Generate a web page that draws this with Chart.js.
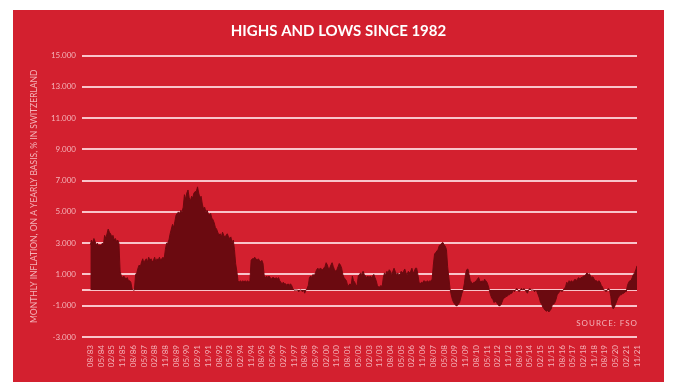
<!DOCTYPE html>
<html>
<head>
<meta charset="utf-8">
<script src="https://cdn.jsdelivr.net/npm/chart.js@4.4.0/dist/chart.umd.min.js"></script>
<style>
  html, body { margin: 0; padding: 0; background: #fff; }
  #panel { position: absolute; left: 13px; top: 10px; width: 651px; height: 372px; background: #d3202f; }
  canvas { display: block; }
</style>
</head>
<body>
<div id="panel"><canvas id="chart" width="651" height="372"></canvas></div>
<script>
// monthly inflation (% yoy), first value = 08/1983, last = 11/2021
var inflation = [
  2.9, 3.2, 3.0, 3.3, 3.1,                                          // 1983 (aug-dec)
  2.9, 3.0, 2.8, 2.9, 2.8, 3.0, 2.9, 3.5, 3.3, 3.6, 3.9, 3.7,       // 1984
  3.6, 3.4, 3.5, 3.2, 3.3, 3.1, 3.2, 3.0, 1.2, 0.9, 0.8, 0.9,       // 1985
  0.8, 0.7, 0.8, 0.6, 0.6, 0.5, 0.1, 0.0, 0.0, 1.0, 1.1, 1.4,       // 1986
  1.6, 1.5, 1.8, 2.0, 1.7, 1.9, 2.0, 1.8, 2.1, 1.9, 2.0, 1.8,       // 1987
  1.9, 2.1, 1.8, 2.0, 1.9, 2.1, 1.9, 2.0, 2.1, 2.0, 2.6, 3.0,       // 1988
  3.0, 3.2, 3.6, 3.9, 4.2, 4.0, 4.4, 4.8, 4.9, 5.0, 4.9, 5.1,       // 1989
  5.0, 5.3, 6.1, 5.8, 6.2, 6.4, 5.9, 5.7, 6.0, 5.9, 6.2, 6.3,       // 1990
  6.3, 6.6, 6.2, 5.9, 6.0, 5.5, 5.2, 5.3, 5.0, 5.1, 4.9, 4.8,       // 1991
  4.9, 4.6, 4.5, 4.3, 4.0, 3.9, 3.7, 3.5, 3.6, 3.4, 3.7, 3.5,       // 1992
  3.4, 3.5, 3.6, 3.4, 3.3, 3.4, 3.0, 3.2, 2.6, 1.7, 1.2, 0.6,       // 1993
  0.5, 0.6, 0.5, 0.6, 0.5, 0.6, 0.5, 0.6, 0.5, 0.6, 1.9, 2.0,       // 1994
  2.0, 2.1, 2.0, 1.9, 2.0, 1.9, 1.8, 1.9, 1.7, 0.9, 0.8, 0.9,       // 1995
  0.8, 0.9, 0.8, 0.7, 0.8, 0.8, 0.7, 0.8, 0.7, 0.8, 0.6, 0.5,       // 1996
  0.4, 0.5, 0.4, 0.4, 0.3, 0.4, 0.3, 0.4, 0.3, 0.1, 0.0, 0.0,       // 1997
  0.0, 0.0, -0.1, 0.0, 0.0, -0.1, 0.0, -0.2, 0.0, 0.1, 0.3, 0.8,    // 1998
  0.9, 0.8, 1.0, 0.9, 1.1, 1.3, 1.4, 1.3, 1.4, 1.35, 1.3, 1.4,      // 1999
  1.5, 1.75, 1.6, 1.35, 1.4, 1.6, 1.75, 1.5, 1.3, 1.2, 1.3, 1.5,    // 2000
  1.7, 1.6, 1.4, 1.0, 0.8, 0.7, 0.6, 0.3, 0.3, 0.4, 0.3, 0.9,       // 2001
  0.6, 0.5, 0.3, 0.3, 0.9, 1.0, 1.1, 1.0, 1.2, 1.0, 0.9, 0.8,       // 2002
  0.9, 0.8, 0.9, 0.8, 0.9, 1.0, 0.8, 0.6, 0.3, 0.2, 0.2, 0.3,       // 2003
  0.2, 0.8, 1.1, 1.0, 1.2, 1.1, 1.3, 1.2, 1.0, 1.2, 1.4, 1.2,       // 2004
  1.0, 1.1, 1.0, 1.0, 1.2, 1.1, 1.2, 1.35, 1.1, 1.0, 1.2, 1.1,      // 2005
  1.2, 1.4, 1.1, 1.2, 1.4, 1.4, 1.0, 0.5, 0.4, 0.5, 0.45, 0.6,      // 2006
  0.55, 0.5, 0.6, 0.5, 0.6, 0.55, 0.7, 1.6, 2.3, 2.4, 2.5, 2.6,     // 2007
  2.85, 2.9, 3.0, 3.05, 2.9, 2.8, 2.6, 1.5, 0.8, 0.1, -0.3, -0.6,   // 2008
  -0.8, -0.9, -1.0, -1.0, -0.9, -0.8, -0.5, -0.2, 0.0, 0.4, 1.0, 1.3, // 2009
  1.35, 1.0, 0.6, 0.5, 0.4, 0.5, 0.5, 0.6, 0.7, 0.8, 0.6, 0.5,      // 2010
  0.6, 0.5, 0.7, 0.6, 0.5, 0.3, 0.0, -0.3, -0.5, -0.6, -0.8, -0.7,  // 2011
  -0.8, -0.9, -1.0, -1.0, -0.9, -0.7, -0.5, -0.5, -0.4, -0.4, -0.3, -0.3, // 2012
  -0.2, -0.2, 0.0, -0.1, 0.0, 0.1, 0.0, -0.1, 0.0, 0.1, 0.0, 0.1,   // 2013
  0.0, -0.1, -0.2, 0.0, 0.1, 0.0, 0.0, 0.0, -0.1, 0.0, -0.1, -0.3,  // 2014
  -0.5, -0.8, -0.9, -1.1, -1.2, -1.3, -1.35, -1.3, -1.4, -1.3, -1.2, -0.9, // 2015
  -0.9, -0.8, -0.6, -0.3, -0.2, -0.1, 0.0, -0.1, 0.0, 0.1, 0.2, 0.5, // 2016
  0.4, 0.6, 0.5, 0.6, 0.5, 0.6, 0.7, 0.6, 0.7, 0.8, 0.7, 0.8,       // 2017
  0.8, 0.9, 0.9, 1.0, 1.1, 1.0, 1.05, 0.9, 0.8, 0.85, 0.7, 0.6,     // 2018
  0.6, 0.5, 0.6, 0.5, 0.3, 0.2, 0.0, 0.0, -0.1, 0.0, 0.1, 0.0,      // 2019
  -0.4, -1.0, -1.2, -1.1, -0.9, -0.7, -0.5, -0.4, -0.3, -0.3, -0.2, -0.2, // 2020
  -0.1, -0.1, 0.3, 0.5, 0.6, 0.6, 0.8, 1.0, 1.1, 1.3, 1.55          // 2021 (jan-nov)
];

// one label every 9 months
var tickLabels = ['08/83','05/84','02/85','11/85','08/86','05/87','02/88','11/88','08/89','05/90',
  '02/91','11/91','08/92','05/93','02/94','11/94','08/95','05/96','02/97','11/97','08/98','05/99',
  '02/00','11/00','08/01','05/02','02/03','11/03','08/04','05/05','02/06','11/06','08/07','05/08',
  '02/09','11/09','08/10','05/11','02/12','11/12','08/13','05/14','02/15','11/15','08/16','05/17',
  '02/18','11/18','08/19','05/20','02/21','11/21'];
var tickStep = 9;

var yTicks = [-3, -1, 0, 1, 3, 5, 7, 9, 11, 13, 15];

var pink = '#f4b3b9';
var gridColor = 'rgba(255, 226, 229, 0.85)';

var points = inflation.map(function (v, i) { return { x: i, y: v }; });

var sourcePlugin = {
  id: 'source',
  afterDraw: function (chart) {
    var ctx = chart.ctx;
    ctx.save();
    ctx.font = '8px Lato';
    ctx.letterSpacing = '1px';
    ctx.fillStyle = pink;
    ctx.textAlign = 'right';
    ctx.textBaseline = 'middle';
    ctx.fillText('SOURCE: FSO', chart.chartArea.right + 1, chart.scales.y.getPixelForValue(-2.13));
    ctx.restore();
  }
};

new Chart(document.getElementById('chart'), {
  type: 'line',
  data: {
    datasets: [{
      data: points,
      fill: 'origin',
      backgroundColor: '#6b0a10',
      borderColor: '#6b0a10',
      borderWidth: 1,
      pointRadius: 0,
      tension: 0
    }]
  },
  options: {
    responsive: false,
    animation: false,
    plugins: {
      legend: { display: false },
      tooltip: { enabled: false },
      title: {
        display: true,
        text: 'HIGHS AND LOWS SINCE 1982',
        color: '#ffffff',
        font: { family: 'Lato', size: 15, weight: 'bold' },
        padding: { top: 12, bottom: 15.5 }
      }
    },
    scales: {
      x: {
        type: 'linear',
        min: -7,
        max: 459,
        grid: { display: false, drawTicks: false },
        border: { display: false },
        afterBuildTicks: function (axis) {
          axis.ticks = tickLabels.map(function (l, i) { return { value: i * tickStep }; });
        },
        afterFit: function (axis) { axis.height = 45; },
        ticks: {
          autoSkip: false,
          minRotation: 90,
          maxRotation: 90,
          padding: 8,
          color: pink,
          font: { family: 'Lato', size: 8 },
          callback: function (value, index) { return tickLabels[index]; }
        }
      },
      y: {
        min: -3,
        max: 15,
        grid: { color: gridColor, lineWidth: 2, drawTicks: false },
        border: { display: false },
        afterBuildTicks: function (axis) {
          axis.ticks = yTicks.map(function (v) { return { value: v }; });
        },
        afterFit: function (axis) { axis.width = 69; },
        ticks: {
          padding: 6,
          color: pink,
          font: { family: 'Lato', size: 8 },
          callback: function (value) { return value === 0 ? '' : value.toFixed(3); }
        },
        title: {
          display: true,
          text: 'MONTHLY INFLATION, ON A YEARLY BASIS, % IN SWITZERLAND',
          color: pink,
          font: { family: 'Lato', size: 8.5 },
          padding: { top: 16, bottom: 0 }
        }
      },
      // empty right margin so the title stays centred on the panel
      yRight: {
        position: 'right',
        min: -3,
        max: 15,
        grid: { display: false, drawTicks: false },
        border: { display: false },
        ticks: { display: false },
        afterFit: function (axis) { axis.width = 27; }
      }
    }
  },
  plugins: [sourcePlugin]
});
</script>
</body>
</html>
